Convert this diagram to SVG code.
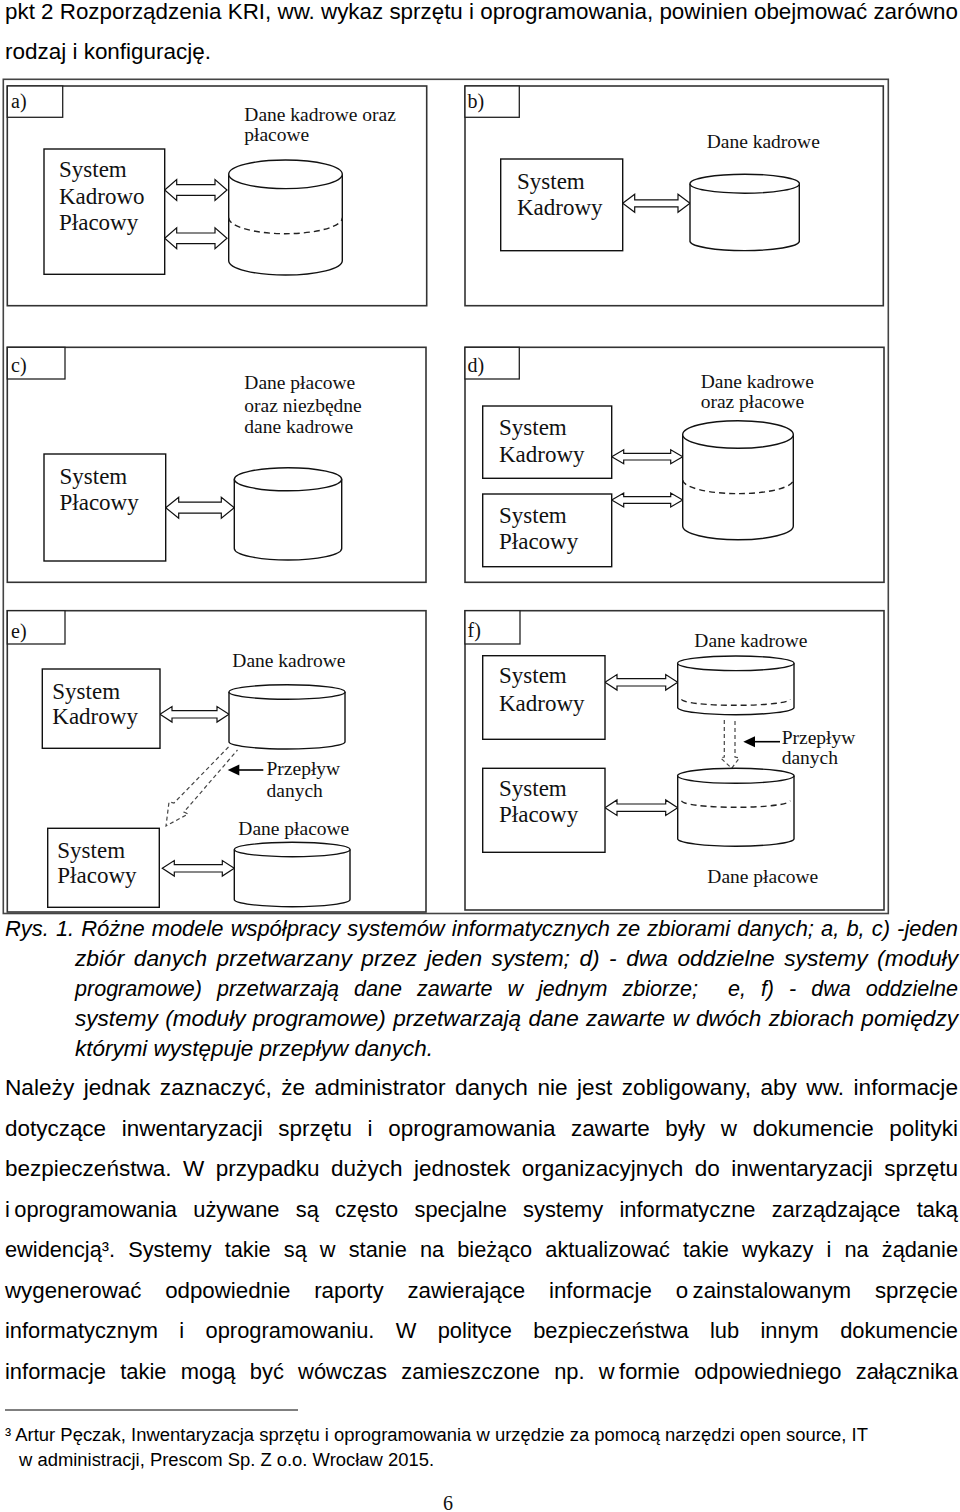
<svg xmlns="http://www.w3.org/2000/svg" width="960" height="1512" viewBox="0 0 960 1512">
<style>
.outer{fill:none;stroke:#444;stroke-width:1.6}
.frame{fill:none;stroke:#333;stroke-width:1.6}
.tag{fill:#fff;stroke:#222;stroke-width:1.3}
.box{fill:#fff;stroke:#111;stroke-width:1.4}
.cyl{fill:#fff;stroke:#111;stroke-width:1.4}
.arc{fill:none;stroke:#222;stroke-width:1.4;stroke-dasharray:6 4}
.darr{fill:#fff;stroke:#111;stroke-width:1.2;stroke-linejoin:miter}
.flow{fill:none;stroke:#444;stroke-width:1.2;stroke-dasharray:4 3}
.pline{stroke:#000;stroke-width:1.6}
.ser{font-family:"Liberation Serif","Times New Roman",serif;fill:#111}
.sys{font-size:23px}
.lbl{font-size:19.5px}
.tg{font-size:20px}
.body{font-family:"Liberation Sans",Arial,sans-serif;font-size:21.5px;fill:#000}
.cap{font-style:italic}
.fn{font-size:18px}
</style>

<!-- page text -->
<g id="page-top">
<text class="body" x="5" y="19" textLength="953" lengthAdjust="spacingAndGlyphs">pkt 2 Rozporządzenia KRI, ww. wykaz sprzętu i oprogramowania, powinien obejmować zarówno</text>
<text class="body" x="5" y="59" textLength="206" lengthAdjust="spacingAndGlyphs">rodzaj i konfigurację.</text>
</g>

<!-- figure frame -->
<rect id="figure-frame" class="outer" x="3.3" y="79.3" width="885" height="834.2"/>

<!-- panels -->
<g id="panel-a">
<rect class="frame" x="7.3" y="86" width="419.4" height="219.7"/>
<rect class="tag" x="7.3" y="86" width="55.4" height="31.3"/>
<text class="ser tg" x="11" y="108">a)</text>
</g>
<g id="panel-b">
<rect class="frame" x="465" y="86" width="418.3" height="219.7"/>
<rect class="tag" x="465" y="86" width="54.3" height="31.3"/>
<text class="ser tg" x="467.5" y="108">b)</text>
</g>
<g id="panel-c">
<rect class="frame" x="7.3" y="347.3" width="418.7" height="235"/>
<rect class="tag" x="7.3" y="347.3" width="57.7" height="31.7"/>
<text class="ser tg" x="11" y="371.5">c)</text>
</g>
<g id="panel-d">
<rect class="frame" x="465" y="347.3" width="419" height="235"/>
<rect class="tag" x="465" y="347.3" width="54.3" height="31.7"/>
<text class="ser tg" x="467.5" y="371.5">d)</text>
</g>
<g id="panel-e">
<rect class="frame" x="7.3" y="610.7" width="418.7" height="301.3"/>
<rect class="tag" x="7.3" y="610.7" width="57.7" height="33.3"/>
<text class="ser tg" x="11" y="637.5">e)</text>
</g>
<g id="panel-f">
<rect class="frame" x="465" y="610.7" width="419" height="299.3"/>
<rect class="tag" x="465" y="610.7" width="55" height="33.3"/>
<text class="ser tg" x="467.5" y="636.5">f)</text>
</g>

<!-- connectors -->
<g id="connectors">
<path class="darr" d="M164.7,190 L176.7,179.5 L176.7,184.7 L215,184.7 L215,179.5 L227,190 L215,200.5 L215,195.3 L176.7,195.3 L176.7,200.5 Z"/>
<path class="darr" d="M164.7,238.3 L176.7,227.8 L176.7,233 L215,233 L215,227.8 L227,238.3 L215,248.8 L215,243.6 L176.7,243.6 L176.7,248.8 Z"/>
<path class="darr" d="M622.7,203.3 L634.7,194.3 L634.7,199.8 L678,199.8 L678,194.3 L690,203.3 L678,212.3 L678,206.8 L634.7,206.8 L634.7,212.3 Z"/>
<path class="darr" d="M165.7,507.7 L178.7,497.2 L178.7,502.2 L221.3,502.2 L221.3,497.2 L234.3,507.7 L221.3,518.2 L221.3,513.2 L178.7,513.2 L178.7,518.2 Z"/>
<path class="darr" d="M611.7,456.7 L623.7,449.7 L623.7,453.4 L670.7,453.4 L670.7,449.7 L682.7,456.7 L670.7,463.7 L670.7,460 L623.7,460 L623.7,463.7 Z"/>
<path class="darr" d="M611.7,500 L623.7,493 L623.7,496.7 L670.7,496.7 L670.7,493 L682.7,500 L670.7,507 L670.7,503.3 L623.7,503.3 L623.7,507 Z"/>
<path class="darr" d="M160,714.3 L172,706.5 L172,710.6 L217,710.6 L217,706.5 L229,714.3 L217,722.1 L217,718 L172,718 L172,722.1 Z"/>
<path class="darr" d="M162.3,868.3 L174.3,860.5 L174.3,864.6 L222.3,864.6 L222.3,860.5 L234.3,868.3 L222.3,876.1 L222.3,872 L174.3,872 L174.3,876.1 Z"/>
<path class="darr" d="M605,682.3 L617,674.5 L617,678.6 L665.7,678.6 L665.7,674.5 L677.7,682.3 L665.7,690.1 L665.7,686 L617,686 L617,690.1 Z"/>
<path class="darr" d="M605,807.7 L617,799.9 L617,804 L665.7,804 L665.7,799.9 L677.7,807.7 L665.7,815.5 L665.7,811.4 L617,811.4 L617,815.5 Z"/>
<!-- data flow (dashed) -->
<path class="flow" d="M228.5,747 L174,803 L169,802 L166,826 L188,814 L184,812 L237.5,750"/>
<path class="flow" d="M724.3,720 L724.3,757 L720.7,758 L731.7,768.3 L739.3,758 L735,757 L735,720"/>
<!-- pointer arrows -->
<line class="pline" x1="263.3" y1="770" x2="238" y2="770"/>
<polygon points="227.7,770 239.3,764.5 239.3,775.5" fill="#000"/>
<line class="pline" x1="780" y1="741.7" x2="754" y2="741.7"/>
<polygon points="743.3,741.7 755,736.2 755,747.2" fill="#000"/>
</g>

<!-- panel a nodes -->
<g id="a-system">
<rect class="box" x="44" y="149" width="120.7" height="125.3"/>
<text class="ser sys" x="59" y="177">System</text>
<text class="ser sys" x="59" y="203.5">Kadrowo</text>
<text class="ser sys" x="59" y="230">Płacowy</text>
</g>
<g id="a-db">
<path class="cyl" d="M228.7,174.3 L228.7,260.7 A56.8,14.3 0 0 0 342.3,260.7 L342.3,174.3"/>
<ellipse class="cyl" cx="285.5" cy="174.3" rx="56.8" ry="14.3"/>
<path class="arc" d="M228.7,217.7 A56.8,16 0 0 0 342.3,217.7"/>
<text class="ser lbl" x="244.3" y="120.5">Dane kadrowe oraz</text>
<text class="ser lbl" x="244.3" y="140.5">płacowe</text>
</g>

<!-- panel b nodes -->
<g id="b-system">
<rect class="box" x="500.7" y="159" width="122" height="91.7"/>
<text class="ser sys" x="517" y="189">System</text>
<text class="ser sys" x="517" y="214.5">Kadrowy</text>
</g>
<g id="b-db">
<path class="cyl" d="M690,183.7 L690,241.5 A54.7,9.5 0 0 0 799.3,241.5 L799.3,183.7"/>
<ellipse class="cyl" cx="744.7" cy="183.7" rx="54.7" ry="9.5"/>
<text class="ser lbl" x="706.7" y="148.3">Dane kadrowe</text>
</g>

<!-- panel c nodes -->
<g id="c-system">
<rect class="box" x="44" y="454" width="121.7" height="107"/>
<text class="ser sys" x="59.5" y="483.5">System</text>
<text class="ser sys" x="59.5" y="510">Płacowy</text>
</g>
<g id="c-db">
<path class="cyl" d="M234.3,479.3 L234.3,548.5 A53.7,11.5 0 0 0 341.7,548.5 L341.7,479.3"/>
<ellipse class="cyl" cx="288" cy="479.3" rx="53.7" ry="11.5"/>
<text class="ser lbl" x="244.3" y="389.3">Dane płacowe</text>
<text class="ser lbl" x="244.3" y="411.5">oraz niezbędne</text>
<text class="ser lbl" x="244.3" y="433.3">dane kadrowe</text>
</g>

<!-- panel d nodes -->
<g id="d-system-kadrowy">
<rect class="box" x="482.7" y="406" width="129" height="72.3"/>
<text class="ser sys" x="499" y="435">System</text>
<text class="ser sys" x="499" y="461.7">Kadrowy</text>
</g>
<g id="d-system-placowy">
<rect class="box" x="482.7" y="494" width="129" height="72.7"/>
<text class="ser sys" x="499" y="523.3">System</text>
<text class="ser sys" x="499" y="549.3">Płacowy</text>
</g>
<g id="d-db">
<path class="cyl" d="M682.7,434.5 L682.7,526 A55.3,13.8 0 0 0 793.3,526 L793.3,434.5"/>
<ellipse class="cyl" cx="738" cy="434.5" rx="55.3" ry="13.8"/>
<path class="arc" d="M682.7,480 A55.3,14 0 0 0 793.3,479.3"/>
<text class="ser lbl" x="700.7" y="388.3">Dane kadrowe</text>
<text class="ser lbl" x="700.7" y="408.3">oraz płacowe</text>
</g>

<!-- panel e nodes -->
<g id="e-system-kadrowy">
<rect class="box" x="42.3" y="669" width="117.7" height="79.3"/>
<text class="ser sys" x="52.3" y="699">System</text>
<text class="ser sys" x="52.3" y="724.3">Kadrowy</text>
</g>
<g id="e-db-kadrowe">
<path class="cyl" d="M229,692 L229,741.8 A58,7.2 0 0 0 345,741.8 L345,692"/>
<ellipse class="cyl" cx="287" cy="692" rx="58" ry="7.2"/>
<text class="ser lbl" x="232.3" y="667.3">Dane kadrowe</text>
</g>
<g id="e-flow-label">
<text class="ser lbl" x="266.5" y="775">Przepływ</text>
<text class="ser lbl" x="266.5" y="796.7">danych</text>
</g>
<g id="e-system-placowy">
<rect class="box" x="47.7" y="828.3" width="111.6" height="79"/>
<text class="ser sys" x="57.3" y="858.3">System</text>
<text class="ser sys" x="57.3" y="883.3">Płacowy</text>
</g>
<g id="e-db-placowe">
<path class="cyl" d="M234.3,849.5 L234.3,899.5 A57.8,7.2 0 0 0 350,899.5 L350,849.5"/>
<ellipse class="cyl" cx="292.2" cy="849.5" rx="57.8" ry="7.2"/>
<text class="ser lbl" x="238.3" y="835">Dane płacowe</text>
</g>

<!-- panel f nodes -->
<g id="f-system-kadrowy">
<rect class="box" x="482.7" y="655.7" width="122.3" height="83.6"/>
<text class="ser sys" x="499" y="683.3">System</text>
<text class="ser sys" x="499" y="711">Kadrowy</text>
</g>
<g id="f-system-placowy">
<rect class="box" x="482.7" y="768.3" width="122.3" height="84"/>
<text class="ser sys" x="499" y="796">System</text>
<text class="ser sys" x="499" y="822.3">Płacowy</text>
</g>
<g id="f-db-kadrowe">
<path class="cyl" d="M677.7,663.3 L677.7,707.7 A58.2,7.3 0 0 0 794,707.7 L794,663.3"/>
<ellipse class="cyl" cx="735.8" cy="663.3" rx="58.2" ry="7.3"/>
<path class="arc" d="M681.7,699.3 A54,6 0 0 0 790,699.3"/>
<text class="ser lbl" x="694.3" y="646.7">Dane kadrowe</text>
</g>
<g id="f-flow-label">
<text class="ser lbl" x="781.7" y="744.3">Przepływ</text>
<text class="ser lbl" x="781.7" y="764.3">danych</text>
</g>
<g id="f-db-placowe">
<path class="cyl" d="M677.7,775.8 L677.7,839 A58.2,7.5 0 0 0 794,839 L794,775.8"/>
<ellipse class="cyl" cx="735.8" cy="775.8" rx="58.2" ry="7.5"/>
<path class="arc" d="M681.7,800.7 A54,6.6 0 0 0 790,800.7"/>
<text class="ser lbl" x="707.3" y="882.7">Dane płacowe</text>
</g>

<!-- caption -->
<g id="caption">
<text class="body cap" x="5" y="936" textLength="953" lengthAdjust="spacingAndGlyphs" word-spacing="1">Rys. 1. Różne modele współpracy systemów informatycznych ze zbiorami danych; a, b, c) -jeden</text>
<text class="body cap" x="75" y="966" textLength="883" lengthAdjust="spacingAndGlyphs" word-spacing="3">zbiór danych przetwarzany przez jeden system; d) - dwa oddzielne systemy (moduły</text>
<text class="body cap" x="75" y="996" textLength="883" lengthAdjust="spacingAndGlyphs" word-spacing="9" xml:space="preserve">programowe) przetwarzają dane zawarte w jednym zbiorze;  e, f) - dwa oddzielne</text>
<text class="body cap" x="75" y="1026" textLength="883" lengthAdjust="spacingAndGlyphs" word-spacing="1">systemy (moduły programowe) przetwarzają dane zawarte w dwóch zbiorach pomiędzy</text>
<text class="body cap" x="75" y="1056" textLength="358" lengthAdjust="spacingAndGlyphs">którymi występuje przepływ danych.</text>
</g>

<!-- paragraph -->
<g id="paragraph">
<text class="body" x="5" y="1095" textLength="953" lengthAdjust="spacingAndGlyphs" word-spacing="3">Należy jednak zaznaczyć, że administrator danych nie jest zobligowany, aby ww. informacje</text>
<text class="body" x="5" y="1136" textLength="953" lengthAdjust="spacingAndGlyphs" word-spacing="9">dotyczące inwentaryzacji sprzętu i oprogramowania zawarte były w dokumencie polityki</text>
<text class="body" x="5" y="1176" textLength="953" lengthAdjust="spacingAndGlyphs" word-spacing="5">bezpieczeństwa. W przypadku dużych jednostek organizacyjnych do inwentaryzacji sprzętu</text>
<text class="body" x="5" y="1217" textLength="953" lengthAdjust="spacingAndGlyphs" word-spacing="10">i&#8201;oprogramowania używane są często specjalne systemy informatyczne zarządzające taką</text>
<text class="body" x="5" y="1257" textLength="953" lengthAdjust="spacingAndGlyphs" word-spacing="7">ewidencją³. Systemy takie są w stanie na bieżąco aktualizować takie wykazy i na żądanie</text>
<text class="body" x="5" y="1298" textLength="953" lengthAdjust="spacingAndGlyphs" word-spacing="17">wygenerować odpowiednie raporty zawierające informacje o&#8201;zainstalowanym sprzęcie</text>
<text class="body" x="5" y="1338" textLength="953" lengthAdjust="spacingAndGlyphs" word-spacing="15">informatycznym i oprogramowaniu. W polityce bezpieczeństwa lub innym dokumencie</text>
<text class="body" x="5" y="1379" textLength="953" lengthAdjust="spacingAndGlyphs" word-spacing="8">informacje takie mogą być wówczas zamieszczone np. w&#8201;formie odpowiedniego załącznika</text>
</g>

<!-- footnote -->
<g id="footnote">
<line x1="5" y1="1410" x2="298" y2="1410" stroke="#000" stroke-width="1"/>
<text class="body fn" x="5" y="1441" textLength="863" lengthAdjust="spacingAndGlyphs">³ Artur Pęczak, Inwentaryzacja sprzętu i oprogramowania w urzędzie za pomocą narzędzi open source, IT</text>
<text class="body fn" x="19" y="1466" textLength="415" lengthAdjust="spacingAndGlyphs">w administracji, Prescom Sp. Z o.o. Wrocław 2015.</text>
</g>
<text id="page-number" class="ser" x="448" y="1510" font-size="20" text-anchor="middle" fill="#000">6</text>
</svg>
